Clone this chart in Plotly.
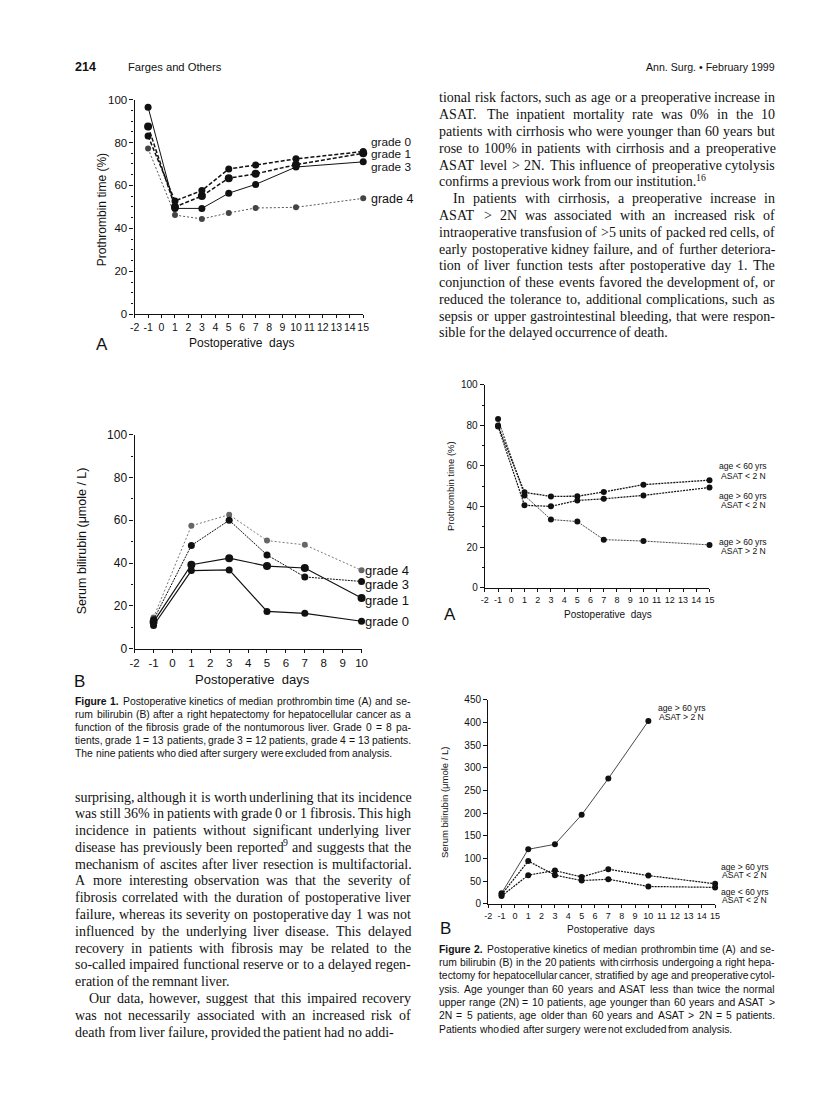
import plotly.graph_objects as go

W, H = 816, 1115


def fx(px):
    return px / W


def fy(py):
    return 1 - py / H


# ---------------- data ----------------
days_a = [-1, 1, 3, 5, 7, 10, 15]
days_b = [-1, 1, 3, 5, 7, 10]
days_c = [-1, 1, 3, 5, 7, 10]

f1a_grade0 = [83.0, 52.8, 57.6, 67.7, 69.5, 72.4, 75.8]
f1a_grade1 = [87.5, 50.0, 55.1, 63.4, 65.4, 69.7, 75.0]
f1a_grade3 = [96.5, 49.3, 49.3, 56.4, 60.5, 68.6, 71.0]
f1a_grade4 = [77.2, 46.2, 44.4, 47.2, 49.5, 49.8, 54.0]

f1b_grade0 = [10.8, 36.5, 36.8, 17.4, 16.5, 12.8]
f1b_grade1 = [12.5, 39.2, 42.3, 38.6, 37.7, 23.7]
f1b_grade3 = [13.5, 48.2, 60.0, 43.8, 33.5, 31.4]
f1b_grade4 = [14.6, 57.4, 62.6, 50.5, 48.5, 36.6]

f2a_young_low = [79.9, 47.0, 45.0, 45.1, 47.2, 50.8, 53.0]
f2a_old_low = [79.5, 40.6, 40.1, 43.0, 43.8, 45.5, 49.4]
f2a_old_high = [83.1, 45.5, 33.6, 32.6, 23.7, 23.0, 21.1]

f2b_old_high = [23, 120, 131, 196, 276, 403]
f2b_old_low = [17, 63, 73, 59, 76, 62, 44]
f2b_young_low = [20, 94, 63, 51, 54, 38, 36]

x_ticks_15 = list(range(-2, 16))
x_ticks_10 = list(range(-2, 11))
y_ticks_100 = list(range(0, 101, 20))
y_ticks_450 = list(range(0, 451, 50))

# ---------------- page text ----------------
header_left_num = "214"
header_left_txt = "Farges and Others"
header_right = "Ann. Surg. \u2022 February 1999"

right_body = [
    "tional risk factors, such as age or a preoperative increase in",
    "ASAT. The inpatient mortality rate was 0% in the 10",
    "patients with cirrhosis who were younger than 60 years but",
    "rose to 100% in patients with cirrhosis and a preoperative",
    "ASAT level > 2N. This influence of preoperative cytolysis",
    "confirms a previous work from our institution.^16",
    "In patients with cirrhosis, a preoperative increase in",
    "ASAT > 2N was associated with an increased risk of",
    "intraoperative transfusion of >5 units of packed red cells, of",
    "early postoperative kidney failure, and of further deteriora-",
    "tion of liver function tests after postoperative day 1. The",
    "conjunction of these events favored the development of, or",
    "reduced the tolerance to, additional complications, such as",
    "sepsis or upper gastrointestinal bleeding, that were respon-",
    "sible for the delayed occurrence of death.",
]
right_last = {5, 14}
right_indent = {6}

left_body = [
    "surprising, although it is worth underlining that its incidence",
    "was still 36% in patients with grade 0 or 1 fibrosis. This high",
    "incidence in patients without significant underlying liver",
    "disease has previously been reported^9 and suggests that the",
    "mechanism of ascites after liver resection is multifactorial.",
    "A more interesting observation was that the severity of",
    "fibrosis correlated with the duration of postoperative liver",
    "failure, whereas its severity on postoperative day 1 was not",
    "influenced by the underlying liver disease. This delayed",
    "recovery in patients with fibrosis may be related to the",
    "so-called impaired functional reserve or to a delayed regen-",
    "eration of the remnant liver.",
    "Our data, however, suggest that this impaired recovery",
    "was not necessarily associated with an increased risk of",
    "death from liver failure, provided the patient had no addi-",
]
left_last = {11}
left_indent = {12}

caption1 = [
    "**Figure **1. Postoperative kinetics of median prothrombin time (A) and se-",
    "rum bilirubin (B) after a right hepatectomy for hepatocellular cancer as a",
    "function of the fibrosis grade of the nontumorous liver. Grade 0 = 8 pa-",
    "tients, grade 1 = 13 patients, grade 3 = 12 patients, grade 4 = 13 patients.",
    "The nine patients who died after surgery were excluded from analysis.",
]
caption2 = [
    "**Figure **2. Postoperative kinetics of median prothrombin time (A) and se-",
    "rum bilirubin (B) in the 20 patients with cirrhosis undergoing a right hepa-",
    "tectomy for hepatocellular cancer, stratified by age and preoperative cytol-",
    "ysis. Age younger than 60 years and ASAT less than twice the normal",
    "upper range (2N) = 10 patients, age younger than 60 years and ASAT >",
    "2N = 5 patients, age older than 60 years and ASAT > 2N = 5 patients.",
    "Patients who died after surgery were not excluded from analysis.",
]

# ---------------- font metrics (per 1000 em) ----------------
TIMES = {' ': 250, '!': 333, '%': 833, "'": 333, '(': 333, ')': 333, ',': 250, '-': 333,
         '.': 250, '/': 278, ':': 278, ';': 278, '<': 564, '=': 564, '>': 564, '?': 444,
         'A': 722, 'B': 667, 'C': 667, 'D': 722, 'E': 611, 'F': 556, 'G': 722, 'H': 722,
         'I': 333, 'J': 389, 'K': 722, 'L': 611, 'M': 889, 'N': 722, 'O': 722, 'P': 556,
         'Q': 722, 'R': 667, 'S': 556, 'T': 611, 'U': 722, 'V': 722, 'W': 944, 'X': 722,
         'Y': 722, 'Z': 611, 'a': 444, 'b': 500, 'c': 444, 'd': 500, 'e': 444, 'f': 333,
         'g': 500, 'h': 500, 'i': 278, 'j': 278, 'k': 500, 'l': 278, 'm': 778, 'n': 500,
         'o': 500, 'p': 500, 'q': 500, 'r': 333, 's': 389, 't': 278, 'u': 500, 'v': 500,
         'w': 722, 'x': 500, 'y': 500, 'z': 444}
for d in '0123456789':
    TIMES[d] = 500
HELV = {' ': 278, '!': 278, '%': 889, '(': 333, ')': 333, ',': 278, '-': 333, '.': 278,
        '/': 278, ':': 278, ';': 278, '<': 584, '=': 584, '>': 584,
        'A': 667, 'B': 667, 'C': 722, 'D': 722, 'E': 667, 'F': 611, 'G': 778, 'H': 722,
        'I': 278, 'J': 500, 'K': 667, 'L': 556, 'M': 833, 'N': 722, 'O': 778, 'P': 667,
        'Q': 778, 'R': 722, 'S': 667, 'T': 611, 'U': 722, 'V': 667, 'W': 944, 'X': 667,
        'Y': 667, 'Z': 611, 'a': 556, 'b': 556, 'c': 500, 'd': 556, 'e': 556, 'f': 278,
        'g': 556, 'h': 556, 'i': 222, 'j': 222, 'k': 500, 'l': 222, 'm': 833, 'n': 556,
        'o': 556, 'p': 556, 'q': 556, 'r': 333, 's': 500, 't': 278, 'u': 556, 'v': 500,
        'w': 722, 'x': 500, 'y': 500, 'z': 500}
for d in '0123456789':
    HELV[d] = 556
HELVB = dict(HELV)
HELVB.update({'F': 611, 'i': 278, 'g': 611, 'u': 611, 'r': 389, 'e': 556, '.': 278})

SERIF = "Liberation Serif"
SANS = "Liberation Sans"
INK = "#111111"

annotations = []


def esc(s):
    return s.replace('&', '&amp;').replace('<', '&lt;').replace('>', '&gt;')


def ann(text, x, y, size, family=SANS, xanchor='left', yanchor='middle', angle=0, bold=False, color=INK):
    t = esc(text)
    if bold:
        t = '<b>' + t + '</b>'
    annotations.append(dict(text=t, x=fx(x), y=fy(y), xref='paper', yref='paper',
                            xanchor=xanchor, yanchor=yanchor, showarrow=False,
                            textangle=angle, borderpad=0, borderwidth=0,
                            font=dict(family=family, size=size, color=color)))


def tw(s, table, size):
    return sum(table.get(c, 500) for c in s) * size / 1000.0


def set_line(line, x0, x1, y, size, serif, justify, indent=0.0):
    table = TIMES if serif else HELV
    family = SERIF if serif else SANS
    words = []
    for w in line.split(' '):
        bold = False
        if w.startswith('**'):
            bold = True
            w = w[2:]
        sup = None
        if '^' in w:
            w, sup = w.split('^')
        tb = HELVB if (bold and not serif) else table
        wid = tw(w, tb, size)
        swid = tw(sup, table, size * 0.7) if sup else 0.0
        words.append((w, sup, bold, wid, swid))
    words = [wd for wd in words if wd[0] or wd[1]]
    total = sum(wd[3] + wd[4] for wd in words)
    space = table[' '] * size / 1000.0
    start = x0 + indent
    if justify and len(words) > 1:
        gap = (x1 - start - total) / (len(words) - 1)
        gap = max(gap, space * 0.55)
    else:
        gap = space
    x = start
    for (w, sup, bold, wid, swid) in words:
        if w:
            ann(w, x, y, size, family, bold=bold)
        if sup:
            ann(sup, x + wid, y - size * 0.33, size * 0.7, family)
        x += wid + swid + gap


def set_block(lines, x0, x1, y0, dy, size, serif, last=(), indent_lines=(), indent=14.0, last_line_free=True):
    for i, line in enumerate(lines):
        is_last = (i in last) or (last_line_free and i == len(lines) - 1)
        ind = indent if i in indent_lines else 0.0
        set_line(line, x0, x1, y0 + i * dy, size, serif, not is_last, ind)


# header
ann(header_left_num, 63, 53, 12.5, SANS, bold=True)
ann(header_left_txt, 117, 53, 11.2, SANS)
ann(header_right, 772, 53, 10.6, SANS, xanchor='right')

# body text
set_block(right_body, 432, 772, 84, 17.0, 14, True, last=right_last, indent_lines=right_indent)
set_block(left_body, 63, 403, 792, 17.0, 14, True, last=left_last, indent_lines=left_indent)

# captions
set_block(caption1, 63, 403, 695, 13.3, 10.35, False)
set_block(caption2, 432, 772, 946, 13.5, 10.35, False)

# ---------------- charts ----------------
fig = go.Figure()


def axis_pair(idx, xdom, ydom, xrange, yrange, xt, yt, ysize, minor_dt=None, lw=1.3, xsize=None):
    sfx = '' if idx == 1 else str(idx)
    xa = dict(domain=[fx(xdom[0]), fx(xdom[1])], range=xrange, anchor='y' + sfx,
              tickmode='array', tickvals=xt, ticktext=[str(v) for v in xt], tickangle=0,
              ticks='outside', ticklen=3, tickwidth=1, tickcolor=INK,
              showline=True, linecolor=INK, linewidth=lw, showgrid=False, zeroline=False,
              tickfont=dict(family=SANS, size=xsize or ysize, color=INK), fixedrange=True)
    ya = dict(domain=[fy(ydom[1]), fy(ydom[0])], range=yrange, anchor='x' + sfx,
              tickmode='array', tickvals=yt, ticktext=[str(v) for v in yt], tickangle=0,
              ticks='outside', ticklen=4, tickwidth=1, tickcolor=INK,
              showline=True, linecolor=INK, linewidth=lw, showgrid=False, zeroline=False,
              tickfont=dict(family=SANS, size=ysize + 0.5, color=INK), fixedrange=True)
    if minor_dt:
        ya['minor'] = dict(dtick=minor_dt, ticks='outside', ticklen=2, tickcolor=INK, showgrid=False)
    fig.update_layout(**{'xaxis' + sfx: xa, 'yaxis' + sfx: ya})
    return 'x' + sfx, 'y' + sfx


xa1, ya1 = axis_pair(1, (123.3, 355), (85.7, 303), [-2, 15], [0, 100], x_ticks_15, y_ticks_100, 11, 5, xsize=10.5)
xa2, ya2 = axis_pair(2, (123.3, 353.3), (425, 641.7), [-2, 10], [0, 100], x_ticks_10, y_ticks_100, 11.5, 10)
xa3, ya3 = axis_pair(3, (478.3, 706), (374.5, 580), [-2, 15], [0, 100], x_ticks_15, y_ticks_100, 9.5, 10, xsize=9)
xa4, ya4 = axis_pair(4, (481.7, 711.7), (693.4, 900), [-2, 15], [0, 450], x_ticks_15, y_ticks_450, 9.5, None, xsize=9)


def series(xs, ys, xa, ya, color=INK, width=1.2, dash='solid', msize=7, mcolor=INK):
    fig.add_trace(go.Scatter(x=xs, y=ys, xaxis=xa, yaxis=ya, mode='lines+markers',
                             line=dict(color=color, width=width, dash=dash),
                             marker=dict(size=msize, color=mcolor),
                             cliponaxis=False, showlegend=False, hoverinfo='skip'))


# Figure 1A
series(days_a, f1a_grade4, xa1, ya1, color='#555555', width=1.0, dash='2px,2px', msize=6, mcolor='#444444')
series(days_a, f1a_grade3, xa1, ya1, width=1.0, dash='solid', msize=7)
series(days_a, f1a_grade1, xa1, ya1, width=1.5, dash='4px,2px', msize=8)
series(days_a, f1a_grade0, xa1, ya1, width=1.5, dash='4px,2px', msize=7)

# Figure 1B
series(days_b, f1b_grade4, xa2, ya2, color='#777777', width=1.0, dash='2px,2px', msize=6, mcolor='#666666')
series(days_b, f1b_grade3, xa2, ya2, width=1.0, dash='2px,1px', msize=7)
series(days_b, f1b_grade1, xa2, ya2, width=1.2, dash='solid', msize=8)
series(days_b, f1b_grade0, xa2, ya2, width=1.2, dash='solid', msize=7)

# Figure 2A
series(days_a, f2a_old_high, xa3, ya3, color='#333333', width=0.9, dash='2px,1px', msize=6)
series(days_a, f2a_old_low, xa3, ya3, width=1.2, dash='2px,1px', msize=6)
series(days_a, f2a_young_low, xa3, ya3, width=1.3, dash='2px,1px', msize=6)

# Figure 2B
series(days_c, f2b_old_high, xa4, ya4, color='#333333', width=0.9, dash='solid', msize=6)
series(days_a, f2b_old_low, xa4, ya4, width=1.2, dash='2px,1px', msize=6)
series(days_a, f2b_young_low, xa4, ya4, width=1.2, dash='2px,1px', msize=6)

# chart labels
ann("Prothrombin time (%)", 90, 197, 12, angle=-90, xanchor='center')
ann("Postoperative  days", 232, 332, 12, xanchor='center')
ann("A", 90, 334, 17, xanchor='center')
ann("grade 0", 363, 128.5, 11.8)
ann("grade 1", 363, 141.0, 11.8)
ann("grade 3", 363, 153.5, 11.8)
ann("grade 4", 363, 186, 12.5)

ann("Serum bilirubin (\u03bcmole / L)", 70, 533, 12.5, angle=-90, xanchor='center')
ann("Postoperative  days", 243, 673, 13, xanchor='center')
ann("B", 67, 675, 17, xanchor='center')
ann("grade 4", 357, 563, 13)
ann("grade 3", 357, 577, 13)
ann("grade 1", 357, 593, 13)
ann("grade 0", 357, 614, 13)

ann("Prothrombin time (%)", 443, 477, 9.5, angle=-90, xanchor='center')
ann("Postoperative  days", 603, 607, 10, xanchor='center')
ann("A", 443, 607, 17, xanchor='center')
for txt, yy in [("age < 60 yrs", 457), ("ASAT < 2 N", 467), ("age > 60 yrs", 487),
                ("ASAT < 2 N", 496), ("age > 60 yrs", 534), ("ASAT > 2 N", 543)]:
    ann(txt, 740, yy, 8.6, xanchor='center')

ann("Serum bilirubin (\u03bcmole / L)", 438, 797, 9.5, angle=-90, xanchor='center')
ann("Postoperative  days", 606, 926, 10, xanchor='center')
ann("B", 438, 925, 17, xanchor='center')
for txt, yy, xx in [("age > 60 yrs", 702, 678), ("ASAT > 2 N", 711, 678),
                    ("age > 60 yrs", 863, 742), ("ASAT < 2 N", 871, 742),
                    ("age < 60 yrs", 888, 742), ("ASAT < 2 N", 896, 742)]:
    ann(txt, xx, yy, 8.6, xanchor='center')

fig.update_layout(width=W, height=H, margin=dict(l=0, r=0, t=0, b=0),
                  paper_bgcolor='white', plot_bgcolor='white', showlegend=False,
                  annotations=annotations)

fig.write_html("out.html")
